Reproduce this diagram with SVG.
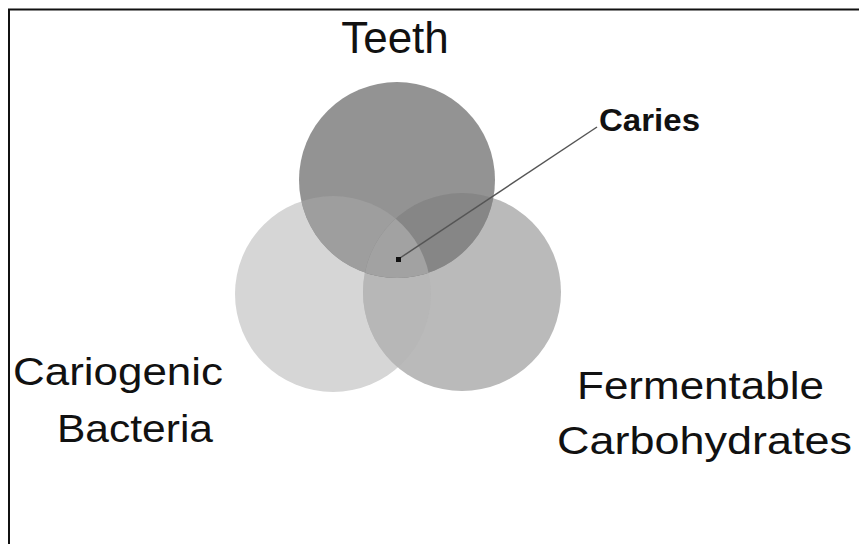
<svg xmlns="http://www.w3.org/2000/svg" width="859" height="544" viewBox="0 0 859 544">
<style>
.lbl{font-family:"Liberation Sans",Arial,sans-serif;fill:#111;}
.big{font-size:38px;}
.bold{font-weight:bold;font-size:32px;}
</style>
<defs>
<clipPath id="cT"><circle cx="397" cy="180" r="98"/></clipPath>
<clipPath id="cL"><circle cx="333" cy="294" r="98"/></clipPath>
<clipPath id="cR"><circle cx="462" cy="292" r="99"/></clipPath>
</defs>
<rect x="0" y="0" width="859" height="544" fill="#fff"/>
<rect x="9" y="9.5" width="900" height="600" fill="none" stroke="#111" stroke-width="2"/>
<g id="bacteria">
<circle cx="333" cy="294" r="98" fill="#d6d6d6"/>
</g>
<g id="carbohydrates">
<circle cx="462" cy="292" r="99" fill="#bababa"/>
<g clip-path="url(#cL)"><circle cx="462" cy="292" r="99" fill="#b7b7b7"/></g>
</g>
<g id="teeth">
<circle cx="397" cy="180" r="98" fill="#939393"/>
<g clip-path="url(#cL)"><circle cx="397" cy="180" r="98" fill="#9e9e9e"/></g>
<g clip-path="url(#cR)"><circle cx="397" cy="180" r="98" fill="#868686"/></g>
<g clip-path="url(#cR)"><g clip-path="url(#cL)"><circle cx="397" cy="180" r="98" fill="#a2a2a2"/></g></g>
</g>
<g id="connectors">
<line x1="398.5" y1="259" x2="597" y2="127" stroke="#555" stroke-width="1.5"/>
<rect x="396" y="257" width="5" height="5" fill="#111"/>
</g>
<g id="labels">
<text class="lbl" x="395" y="53" font-size="44" text-anchor="middle">Teeth</text>
<text class="lbl bold" x="599" y="131" textLength="101" lengthAdjust="spacingAndGlyphs">Caries</text>
<text class="lbl big" x="13" y="385" textLength="210" lengthAdjust="spacingAndGlyphs">Cariogenic</text>
<text class="lbl big" x="57" y="442" textLength="156" lengthAdjust="spacingAndGlyphs">Bacteria</text>
<text class="lbl big" x="577" y="399" textLength="247" lengthAdjust="spacingAndGlyphs">Fermentable</text>
<text class="lbl big" x="557" y="454" textLength="295" lengthAdjust="spacingAndGlyphs">Carbohydrates</text>
</g>
</svg>
